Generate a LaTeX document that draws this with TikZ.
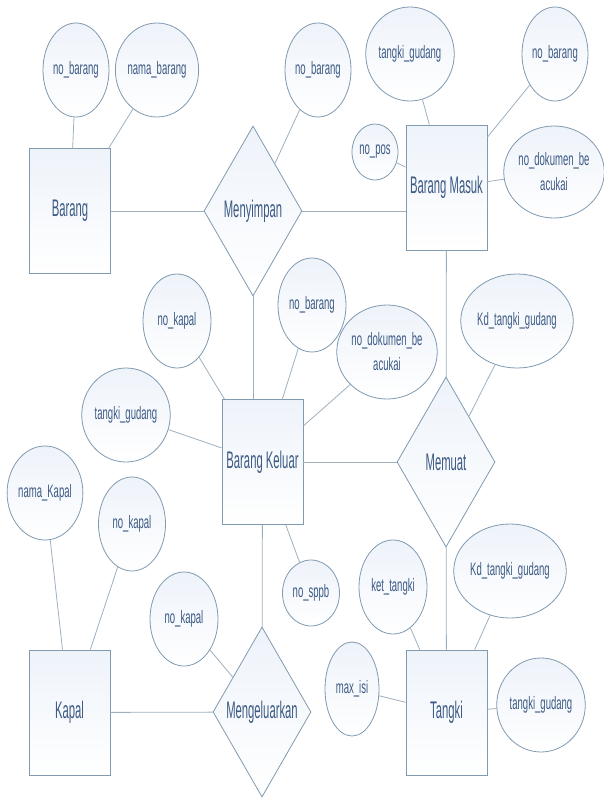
\documentclass[tikz,border=0pt]{standalone}
\usepackage{fontspec}
\usepackage{tikz}
\usetikzlibrary{shapes.geometric}
\newfontfamily\erfont[FakeStretch=0.47]{Liberation Sans}
\newfontfamily\erattfont[FakeStretch=0.53]{Liberation Sans}
\definecolor{erline}{RGB}{128,154,176}
\definecolor{erlink}{RGB}{158,176,190}
\definecolor{ertext}{RGB}{60,90,132}
\definecolor{erfill}{RGB}{238,243,250}

\begin{document}
\begin{tikzpicture}[x=1pt, y=-1pt,
    ent/.style={rectangle, draw=erline, line width=0.8pt, top color=erfill, bottom color=white,
                minimum width=81pt, minimum height=125pt, inner sep=0pt, text=ertext,
                font=\erfont\fontsize{24}{26}\selectfont},
    rel/.style={diamond, draw=erline, line width=0.8pt, top color=erfill, bottom color=white,
                minimum width=98pt, minimum height=170pt, inner sep=0pt, text=ertext,
                font=\erfont\fontsize{24}{26}\selectfont},
    att/.style={ellipse, draw=erline, line width=0.8pt, top color=erfill, bottom color=white,
                minimum width=68pt, minimum height=94pt, inner sep=0pt, text=ertext, align=center,
                font=\erattfont\fontsize{18}{25}\selectfont},
    link/.style={draw=erlink, line width=0.8pt}]
\useasboundingbox (0,0) rectangle (603,798);
% entities
\node[ent] (barang) at (70,211) {Barang};
\node[ent] (bmasuk) at (446.5,187.5) {Barang Masuk};
\node[ent] (bkeluar) at (262.5,462) {Barang Keluar};
\node[ent] (kapal) at (69.5,712.5) {Kapal};
\node[ent] (tangki) at (446.5,712.5) {Tangki};
% relations
\node[rel] (menyimpan) at (253,211) {Menyimpan};
\node[rel] (memuat) at (446,462) {Memuat};
\node[rel] (mengeluarkan) at (262,712) {Mengeluarkan};
% attributes
\node[att, minimum width=66pt] (brgno) at (76,70) {no\_barang};
\node[att] (brgnama) at (157,70) {nama\_barang};
\node[att, minimum width=66pt] (smpno) at (318,70) {no\_barang};
\node[att, minimum width=80pt] (bmtangki) at (410,54) {tangki\_gudang};
\node[att, minimum width=66pt] (bmno) at (555,54) {no\_barang};
\node[att, minimum width=46pt, minimum height=56pt] (bmpos) at (375,152) {no\_pos};
\node[att, minimum width=82pt, minimum height=92pt] (bmdok) at (554,172) {no\_dokumen\_be\\acukai};
\node[att, minimum width=86pt] (mmkd) at (517,321) {Kd\_tangki\_gudang};
\node[att] (bkkapal) at (177,321) {no\_kapal};
\node[att] (bkno) at (312,305) {no\_barang};
\node[att, minimum width=82pt] (bkdok) at (387,352) {no\_dokumen\_be\\acukai};
\node[att, minimum width=86pt] (bktangki) at (126,415) {tangki\_gudang};
\node[att, minimum width=57pt, minimum height=66pt] (bksppb) at (311,593) {no\_sppb};
\node[att] (kplnama) at (45,493) {nama\_Kapal};
\node[att, minimum width=67pt] (kplno) at (132,524) {no\_kapal};
\node[att] (mglkapal) at (184,619) {no\_kapal};
\node[att] (tgket) at (393,587) {ket\_tangki};
\node[att, minimum width=86pt] (tgkd) at (510,571) {Kd\_tangki\_gudang};
\node[att, minimum width=54pt] (tgmax) at (352,689) {max\_isi};
\node[att, minimum width=82pt] (tggudang) at (541,705) {tangki\_gudang};
% entity - relation links
\draw[link] (barang) -- (menyimpan);
\draw[link] (menyimpan.east) -- (menyimpan.east -| bmasuk.west);
\draw[link] (bmasuk) -- (memuat);
\draw[link] (bkeluar) -- (memuat);
\draw[link] (menyimpan.south) -- (menyimpan.south |- bkeluar.north);
\draw[link] (bkeluar) -- (mengeluarkan);
\draw[link] (kapal) -- (mengeluarkan);
\draw[link] (memuat) -- (tangki);
% attribute links
\draw[link] (brgno) -- (barang);
\draw[link] (brgnama) -- (barang);
\draw[link] (smpno) -- (menyimpan);
\draw[link] (bmtangki) -- (bmasuk);
\draw[link] (bmno) -- (bmasuk);
\draw[link] (bmpos) -- (bmasuk);
\draw[link] (bmdok) -- (bmasuk);
\draw[link] (mmkd) -- (memuat);
\draw[link] (bkkapal) -- (bkeluar);
\draw[link] (bkno) -- (bkeluar);
\draw[link] (bkdok) -- (bkeluar);
\draw[link] (bktangki) -- (bkeluar);
\draw[link] (bksppb) -- (bkeluar);
\draw[link] (kplnama) -- (kapal);
\draw[link] (kplno) -- (kapal);
\draw[link] (mglkapal) -- (mengeluarkan);
\draw[link] (tgket) -- (tangki);
\draw[link] (tgkd) -- (tangki);
\draw[link] (tgmax) -- (tangki);
\draw[link] (tggudang) -- (tangki);
\end{tikzpicture}
\end{document}
